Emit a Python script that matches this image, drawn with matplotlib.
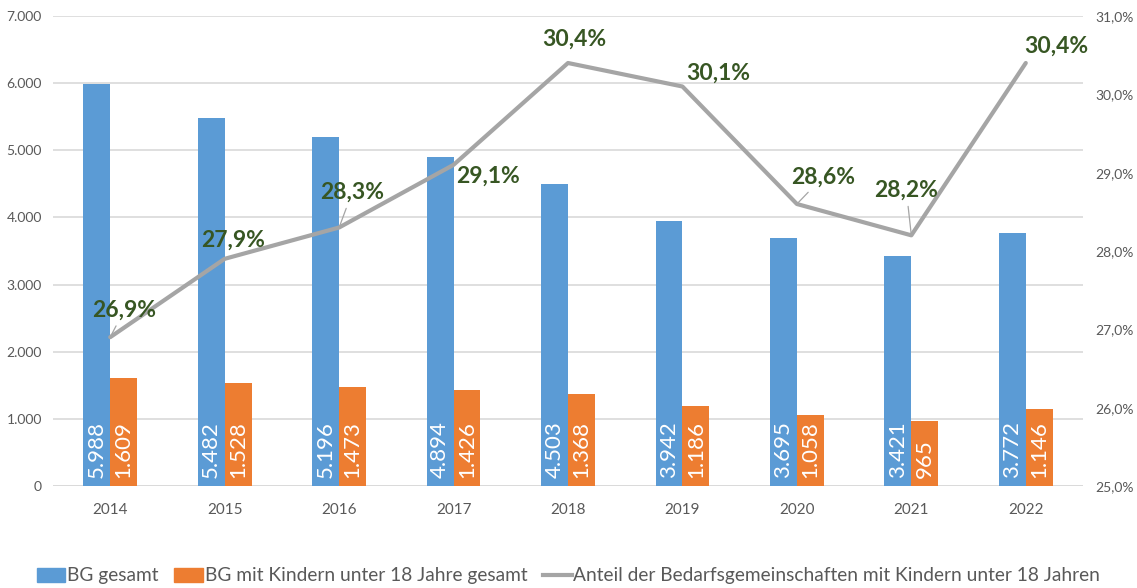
import matplotlib
matplotlib.use("Agg")
import matplotlib.pyplot as plt
from matplotlib.lines import Line2D
from matplotlib.patches import Patch
import numpy as np

plt.rcParams['font.family'] = ['Lato', 'DejaVu Sans']

years = ["2014", "2015", "2016", "2017", "2018", "2019", "2020", "2021", "2022"]
bg_total = [5988, 5482, 5196, 4894, 4503, 3942, 3695, 3421, 3772]
bg_kids = [1609, 1528, 1473, 1426, 1368, 1186, 1058, 965, 1146]
share = [26.9, 27.9, 28.3, 29.1, 30.4, 30.1, 28.6, 28.2, 30.4]
left_ticks = [0, 1000, 2000, 3000, 4000, 5000, 6000, 7000]
right_ticks = [25, 26, 27, 28, 29, 30, 31]

# label offsets (pixels) and whether a leader line is drawn
label_offsets = [(14, 27), (8, 19), (13, 35), (34, -11), (6, 24), (36, 13), (26, 27), (-5, 45), (31, 17)]
leaders = [True, False, True, False, False, False, True, True, False]

BLUE = "#5b9bd5"
ORANGE = "#ed7d31"
GREY = "#a5a5a5"
TXT = "#595959"
GREEN = "#375623"

def fmt_de(v):
    return f"{v:,}".replace(",", ".")

fig = plt.figure(figsize=(11.37, 5.88), dpi=100)
ax = fig.add_axes([53/1137, 1 - 486/588, 1030/1137, 470/588])
x = np.arange(len(years))
w = 0.235
ax.bar(x - w/2, bg_total, w, color=BLUE, zorder=2)
ax.bar(x + w/2, bg_kids, w, color=ORANGE, zorder=2)

for xi, v in zip(x, bg_total):
    ax.text(xi - w/2, 120, fmt_de(v), rotation=90, ha='center', va='bottom',
            color='white', fontsize=16, zorder=3)
for xi, v in zip(x, bg_kids):
    ax.text(xi + w/2, 120, fmt_de(v), rotation=90, ha='center', va='bottom',
            color='white', fontsize=16, zorder=3)

ax.set_xlim(-0.5, len(years) - 0.5)
ax.set_ylim(0, 7000)
ax.set_yticks(left_ticks)
ax.set_yticklabels([fmt_de(t) for t in left_ticks])
ax.set_xticks(x)
ax.set_xticklabels(years)
ax.yaxis.grid(True, color="#d9d9d9", linewidth=1.2, zorder=0)
ax.set_axisbelow(True)
for s in ax.spines.values():
    s.set_visible(False)
ax.tick_params(axis='both', length=0, colors=TXT)
ax.tick_params(axis='y', labelsize=10, pad=8)
ax.tick_params(axis='x', labelsize=11, pad=12)
ax.axhline(0, color="#d9d9d9", linewidth=1.2, zorder=1)

ax2 = ax.twinx()
ax2.set_ylim(25, 31)
ax2.set_yticks(right_ticks)
ax2.set_yticklabels([f"{t:.1f}%".replace(".", ",") for t in right_ticks])
ax2.tick_params(axis='y', length=0, colors=TXT, labelsize=10, pad=9)
for s in ax2.spines.values():
    s.set_visible(False)
ax2.plot(x, share, color=GREY, linewidth=3, zorder=4, solid_capstyle='round')

for xi, v, (dx, dy), ld in zip(x, share, label_offsets, leaders):
    kw = {}
    if ld:
        kw['arrowprops'] = dict(arrowstyle='-', color=GREY, linewidth=0.9, shrinkA=2, shrinkB=0)
    ax2.annotate(f"{v:.1f}%".replace(".", ","), xy=(xi, v), xytext=(dx, dy),
                 textcoords='offset pixels', ha='center', va='center',
                 fontsize=16.5, fontweight='bold', color=GREEN, zorder=5, **kw)

handles = [Patch(color=BLUE), Patch(color=ORANGE), Line2D([0], [0], color=GREY, linewidth=3)]
labels = ["BG gesamt", "BG mit Kindern unter 18 Jahre gesamt",
          "Anteil der Bedarfsgemeinschaften mit Kindern unter 18 Jahren"]
fig.legend(handles, labels, loc='center', bbox_to_anchor=(0.5, 1 - 576/588), ncol=3,
           frameon=False, fontsize=13.8, labelcolor=TXT, handlelength=1.5, handleheight=0.7,
           handletextpad=0.1, columnspacing=0.8)

fig.savefig("out.png", dpi=100)
